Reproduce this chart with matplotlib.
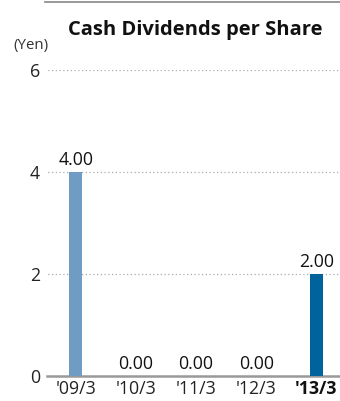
import matplotlib
matplotlib.use("Agg")
import matplotlib.pyplot as plt
from matplotlib.lines import Line2D

categories = ["'09/3", "'10/3", "'11/3", "'12/3", "'13/3"]
values = [4.00, 0.00, 0.00, 0.00, 2.00]
bar_colors = ["#6f9cc3", "#6f9cc3", "#6f9cc3", "#6f9cc3", "#00639b"]
y_ticks = [0, 2, 4, 6]

plt.rcParams['font.family'] = ['Open Sans', 'DejaVu Sans']

W, H = 340, 401
fig = plt.figure(figsize=(W / 100, H / 100), dpi=100)
ax = fig.add_axes([47 / W, 25 / H, 1 - 47 / W, (376 - 70) / H])

x = list(range(len(categories)))
ax.bar(x, values, width=0.215, color=bar_colors, zorder=3)
for xi, v in zip(x, values):
    ax.text(xi, v + 0.06, f"{v:.2f}", ha='center', va='bottom', fontsize=12.8, color='#111111')

ax.set_xlim(-0.477, 4.39)
ax.set_ylim(0, 6)
ax.set_yticks(y_ticks)
ax.set_yticklabels([str(t) for t in y_ticks])
ax.set_xticks(x)
ax.set_xticklabels(categories)
for i, lab in enumerate(ax.get_xticklabels()):
    lab.set_fontsize(12.8)
    lab.set_color('#222222')
    if i == len(categories) - 1:
        lab.set_fontweight('bold')
        lab.set_color('#111111')
for lab in ax.get_yticklabels():
    lab.set_fontsize(12.8)
    lab.set_color('#222222')

ax.tick_params(axis='both', length=0)
ax.tick_params(axis='y', pad=5)
ax.tick_params(axis='x', pad=3)
for s in ['top', 'right', 'left']:
    ax.spines[s].set_visible(False)
ax.spines['bottom'].set_color('#999999')
ax.spines['bottom'].set_linewidth(1.8)

for t in y_ticks[1:]:
    ax.axhline(t, color='#aaaaaa', linestyle=(0, (1, 2)), linewidth=0.9, zorder=1,
               xmin=-0.01)

fig.add_artist(Line2D([45 / W, 1.0], [1 - 2 / H, 1 - 2 / H], color='#888888', linewidth=1.2))
fig.text(195 / W, 1 - 30 / H, "Cash Dividends per Share", ha='center', va='center',
         fontsize=14.5, fontweight='bold', color='#111111')
fig.text(31 / W, 1 - 46 / H, "(Yen)", ha='center', va='center', fontsize=10.8, color='#333333')

fig.savefig("out.png", dpi=100)
